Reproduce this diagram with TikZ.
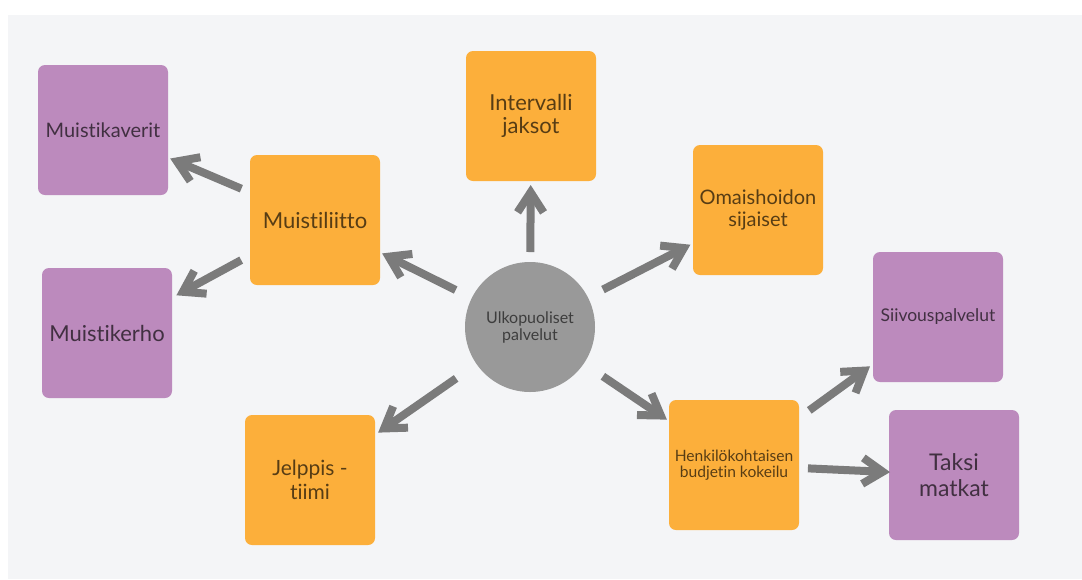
\documentclass[tikz,border=0pt]{standalone}
\usepackage{fontspec}
\setmainfont{Lato}[Ligatures=NoCommon]
\usetikzlibrary{arrows.meta}
\definecolor{bgc}{HTML}{F4F5F7}
\definecolor{org}{HTML}{FCAF3B}
\definecolor{pur}{HTML}{BC8ABD}
\definecolor{circ}{HTML}{999999}
\definecolor{arr}{HTML}{7B7B7B}
\begin{document}
\begin{tikzpicture}[x=1pt,y=-1pt,
  box/.style={rounded corners=7pt, minimum width=130pt, minimum height=130pt,
    inner sep=0pt, align=center, text=black, text opacity=0.65},
  obox/.style={box, fill=org},
  pbox/.style={box, fill=pur},
  conn/.style={draw=arr, line width=8pt, -{Straight Barb[sharp,length=20pt,width=26pt]}}]
\useasboundingbox (0,0) rectangle (1082,579);
\fill[white] (0,0) rectangle (1082,579);
\fill[bgc] (8,15) rectangle (1082,579);

\node[pbox, font=\fontsize{20}{23}\selectfont] (kaverit) at (103,130) {Muistikaverit};
\node[pbox, font=\fontsize{22}{25}\selectfont] (kerho) at (107,333) {Muistikerho};
\node[obox, font=\fontsize{22}{25}\selectfont] (liitto) at (315,220) {Muistiliitto};
\node[obox, font=\fontsize{22}{23}\selectfont] (interv) at (531,116) {Intervalli\\jaksot};
\node[obox, font=\fontsize{20}{22}\selectfont] (omais) at (758,210) {Omaishoidon\\sijaiset};
\node[pbox, font=\fontsize{17.5}{20}\selectfont] (siivous) at (938,317) {Siivouspalvelut};
\node[pbox, font=\fontsize{23}{26}\selectfont] (taksi) at (954,475) {Taksi\\matkat};
\node[obox, font=\fontsize{15.6}{16.5}\selectfont] (henk) at (734,465) {Henkilökohtaisen\\budjetin kokeilu};
\node[obox, font=\fontsize{21}{24}\selectfont] (jelppis) at (310,480) {Jelppis -\\tiimi};
\node[circle, fill=circ, minimum size=130pt, inner sep=0pt, align=center,
  text=black, text opacity=0.6, font=\fontsize{16}{17}\selectfont] (center) at (530,327) {Ulkopuoliset\\palvelut};

\draw[conn, shorten <=80pt, shorten >=73pt] (liitto.center) -- (kaverit.center);
\draw[conn, shorten <=84pt, shorten >=79pt] (liitto.center) -- (kerho.center);
\draw[conn, shorten <=83pt, shorten >=75pt] (center.center) -- (liitto.center);
\draw[conn, shorten <=75pt, shorten >=69pt] (center.center) -- (interv.center);
\draw[conn, shorten <=82pt, shorten >=76pt] (center.center) -- (omais.center);
\draw[conn, shorten <=88pt, shorten >=81pt] (center.center) -- (henk.center);
\draw[conn, shorten <=90pt, shorten >=83pt] (center.center) -- (jelppis.center);
\draw[conn, shorten <=93pt, shorten >=84pt] (henk.center) -- (siivous.center);
\draw[conn, shorten <=74pt, shorten >=64pt] (henk.center) -- (taksi.center);
\end{tikzpicture}
\end{document}
